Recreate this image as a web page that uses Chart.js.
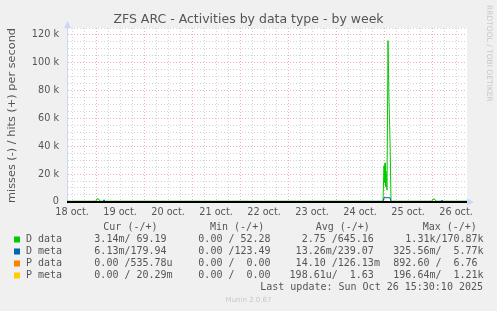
<!DOCTYPE html>
<html>
<head>
<meta charset="utf-8">
<script src="https://cdn.jsdelivr.net/npm/chart.js@4.4.1/dist/chart.umd.min.js"></script>
<style>
html, body { margin: 0; padding: 0; background: #f0f0f0; }
#wrap { width: 497px; height: 311px; }
</style>
</head>
<body>
<div id="wrap"><canvas id="arcChart" width="497" height="311"></canvas></div>
<script>
// x = hours since 18 oct. 00:00
const timeFrom = 9.5;
const timeTo = 209.5;
const dayLabels = ["18 oct.", "19 oct.", "20 oct.", "21 oct.", "22 oct.", "23 oct.", "24 oct.", "25 oct.", "26 oct."];
const yTickLabels = ["0", "20 k", "40 k", "60 k", "80 k", "100 k", "120 k"];

const seriesNames = ["D data", "D meta", "P data", "P meta"];
const seriesColors = ["#00cc00", "#0066b3", "#ff8000", "#ffcc00"];

// hits (+) per second, [hour, value]
const dDataHits = [[9.5, 500], [24, 500], [24.5, 2300], [25.5, 1800], [26, 500], [167.5, 500],
    [168, 26000], [168.25, 14000], [168.5, 28000], [168.75, 11000], [169, 22000], [169.5, 8500],
    [170, 116000], [170.5, 72000], [171, 45000], [171.5, 500], [192, 500], [192.5, 2200],
    [193.5, 1700], [194, 500], [209.5, 500]];
const dMetaHits = [[9.5, 180], [27.5, 180], [28, 1500], [28.5, 180], [167.5, 180], [168, 3000],
    [171, 3000], [171.5, 180], [196.5, 180], [197, 1300], [197.5, 180], [209.5, 180]];
const pDataHits = [[9.5, 0], [209.5, 0]];
const pMetaHits = [[9.5, 0], [168.5, 0], [169, 900], [169.5, 0], [209.5, 0]];

// legend table
const legendHeader = ["Cur (-/+)", "Min (-/+)", "Avg (-/+)", "Max (-/+)"];
const legendCur = ["  3.14m/ 69.19 ", "  6.13m/179.94 ", "  0.00 /535.78u", "  0.00 / 20.29m"];
const legendMin = ["  0.00 / 52.28 ", "  0.00 /123.49 ", "  0.00 /  0.00 ", "  0.00 /  0.00 "];
const legendAvg = ["  2.75 /645.16 ", " 13.26m/239.07 ", " 14.10 /126.13m", "198.61u/  1.63 "];
const legendMax = ["  1.31k/170.87k", "325.56m/  5.77k", "892.60 /  6.76 ", "196.64m/  1.21k"];
const lastUpdate = "Last update: Sun Oct 26 15:30:10 2025";

const seriesData = [dDataHits, dMetaHits, pDataHits, pMetaHits];

const gridRed = "rgba(235, 120, 120, 0.6)";
const gridGrey = "rgba(175, 175, 175, 0.55)";
const fontColor = "#555";

// grid every 6 h on x and every 5 k on y
function setTicks(scale, from, to, step) {
    const t = [];
    for (let v = Math.ceil(from / step) * step; v <= to; v += step) t.push({ value: v });
    scale.ticks = t;
}

const munin = {
    id: "munin",
    beforeDraw(chart) {
        const ctx = chart.ctx, a = chart.chartArea;
        ctx.save();
        ctx.fillStyle = "#ffffff";
        ctx.fillRect(a.left, a.top, a.right - a.left, a.bottom - a.top);
        ctx.restore();
    },
    afterDatasetsDraw(chart) {
        // black zero line on top of the series
        const ctx = chart.ctx, a = chart.chartArea;
        const y0 = Math.round(chart.scales.y.getPixelForValue(0));
        ctx.save();
        ctx.fillStyle = "#000";
        ctx.fillRect(a.left, y0 - 1, a.right - a.left, 2);
        ctx.restore();
    },
    afterDraw(chart) {
        const ctx = chart.ctx, a = chart.chartArea;
        ctx.save();
        // arrows
        ctx.fillStyle = "#cfd6f8";
        ctx.beginPath();
        ctx.moveTo(a.left - 3, a.top);
        ctx.lineTo(a.left + 4, a.top);
        ctx.lineTo(a.left + 0.5, a.top - 7);
        ctx.fill();
        const y0 = chart.scales.y.getPixelForValue(0);
        ctx.beginPath();
        ctx.moveTo(a.right, y0 - 3.5);
        ctx.lineTo(a.right, y0 + 3.5);
        ctx.lineTo(a.right + 7, y0);
        ctx.fill();

        // title
        ctx.fillStyle = fontColor;
        ctx.font = "12.5px 'DejaVu Sans'";
        ctx.textAlign = "center";
        ctx.textBaseline = "middle";
        ctx.fillText("ZFS ARC - Activities by data type - by week", 248.5, 19.5);

        // watermark
        ctx.save();
        ctx.translate(488.5, 5);
        ctx.rotate(Math.PI / 2);
        ctx.fillStyle = "#c8c8c8";
        ctx.font = "7.5px 'DejaVu Sans'";
        ctx.textAlign = "left";
        ctx.fillText("RRDTOOL / TOBI OETIKER", 0, 0);
        ctx.restore();

        // legend
        ctx.font = "10px 'DejaVu Sans Mono'";
        ctx.textAlign = "left";
        ctx.fillStyle = fontColor;
        const headX = [103.3, 210, 315.7, 422.7];
        legendHeader.forEach((h, i) => ctx.fillText(h, headX[i], 227.5));
        const colX = [82.3, 186.3, 289.6, 393.3];
        const cols = [legendCur, legendMin, legendAvg, legendMax];
        seriesNames.forEach((name, r) => {
            const y = 239.5 + r * 12;
            ctx.fillStyle = seriesColors[r];
            ctx.fillRect(14, y - 3, 6, 6);
            ctx.fillStyle = fontColor;
            ctx.fillText(name, 26, y);
            cols.forEach((c, i) => ctx.fillText(c[r], colX[i], y));
        });
        ctx.textAlign = "right";
        ctx.fillText(lastUpdate, 483, 287.5);

        ctx.textAlign = "center";
        ctx.fillStyle = "#c8c8c8";
        ctx.font = "7px 'DejaVu Sans'";
        ctx.fillText("Munin 2.0.67", 248.5, 300.5);
        ctx.restore();
    }
};

new Chart(document.getElementById("arcChart"), {
    type: "line",
    data: {
        datasets: seriesData.map((d, i) => ({
            label: seriesNames[i],
            data: d.map(p => ({ x: p[0], y: p[1] })),
            borderColor: seriesColors[i],
            borderWidth: 1,
            pointRadius: 0,
            tension: 0,
            fill: false,
            order: 3 - i
        }))
    },
    options: {
        responsive: false,
        animation: false,
        events: [],
        layout: { padding: { top: 28, right: 30, left: 0, bottom: 0 } },
        plugins: {
            legend: { display: false },
            tooltip: { enabled: false },
            title: { display: false }
        },
        scales: {
            x: {
                type: "linear",
                min: timeFrom,
                max: timeTo,
                afterBuildTicks: (s) => setTicks(s, timeFrom, timeTo, 6),
                afterFit: (s) => { s.height = 108; },
                border: { display: false, dash: [1, 2] },
                grid: {
                    drawTicks: false,
                    lineWidth: 1,
                    color: (ctx) => {
                        if (!ctx.tick) return "transparent";
                        return ctx.tick.value % 24 === 0 ? gridRed : gridGrey;
                    }
                },
                ticks: {
                    autoSkip: false,
                    maxRotation: 0,
                    padding: 4,
                    color: fontColor,
                    font: { family: "'DejaVu Sans'", size: 9.7 },
                    callback: (v) => v % 24 === 12 ? dayLabels[(v - 12) / 24] : ""
                }
            },
            y: {
                type: "linear",
                min: -800,
                max: 125000,
                afterBuildTicks: (s) => setTicks(s, 0, 125000, 5000),
                afterFit: (s) => { s.width = 67; },
                border: {
                    display: true,
                    color: "#cfd6f8",
                    width: 1,
                    dash: [1, 2]
                },
                grid: {
                    drawTicks: false,
                    lineWidth: 1,
                    color: (ctx) => {
                        if (!ctx.tick) return "transparent";
                        const v = ctx.tick.value;
                        if (v === 0) return "transparent";
                        return v % 20000 === 0 ? gridRed : gridGrey;
                    }
                },
                ticks: {
                    autoSkip: false,
                    padding: 8,
                    color: fontColor,
                    font: { family: "'DejaVu Sans'", size: 9.7 },
                    callback: (v) => v % 20000 === 0 ? yTickLabels[v / 20000] : ""
                },
                title: {
                    display: true,
                    text: "misses (-) / hits (+) per second",
                    color: fontColor,
                    font: { family: "'DejaVu Sans'", size: 11.3 },
                    padding: { top: 5, bottom: 0 }
                }
            }
        }
    },
    plugins: [munin]
});
</script>
</body>
</html>
